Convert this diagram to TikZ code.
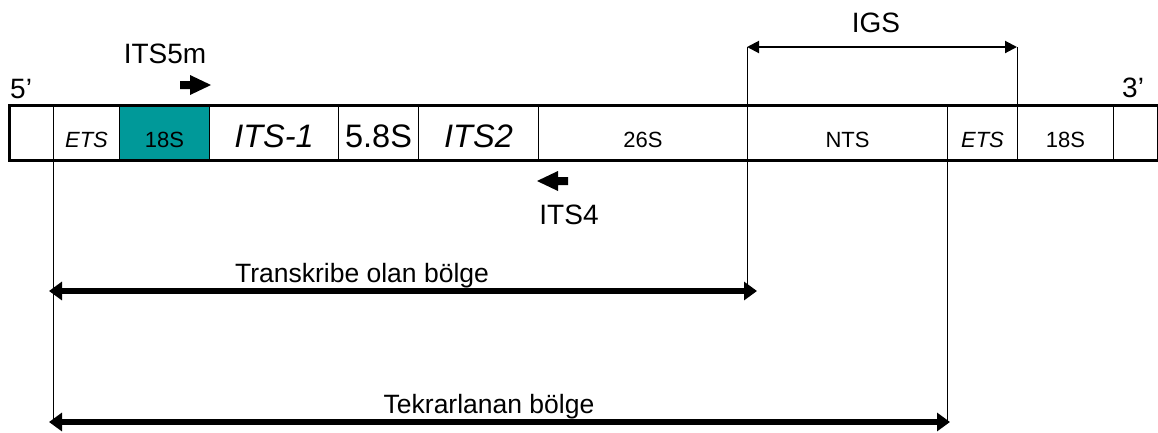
\documentclass[tikz,border=0pt]{standalone}
\usepackage{fontspec}
\setmainfont{Liberation Sans}
\usetikzlibrary{arrows.meta}
\definecolor{tealbox}{RGB}{0,153,153}
\begin{document}
\begin{tikzpicture}[x=1pt,y=-1pt,
  cell/.style={draw, line width=1pt, minimum height=54pt, inner sep=0pt, anchor=west,
    text height=28pt, text depth=0pt, font=\fontsize{22}{24}\selectfont},
  big/.style={font=\fontsize{32.5}{34}\selectfont},
  lbl/.style={anchor=base, inner sep=0pt, font=\fontsize{28}{32}\selectfont},
  rlbl/.style={anchor=base, inner sep=0pt, font=\fontsize{26.5}{30}\selectfont},
  thin/.style={line width=1pt},
  igsarrow/.style={line width=2pt, {Triangle[length=12pt,width=12pt]}-{Triangle[length=12pt,width=12pt]}},
  bigarrow/.style={line width=5.5pt, {Triangle[length=13pt,width=18pt]}-{Triangle[length=13pt,width=18pt]}}]
\useasboundingbox (0,0) rectangle (1158,432);
% cells
\node[cell, minimum width=44pt]  (c0)   at (9,133) {};
\node[cell, minimum width=66pt]  (ets1) at (53,133) {\itshape ETS};
\node[cell, minimum width=90pt, fill=tealbox] (s18a) at (119,133) {18S};
\node[cell, minimum width=129pt, big] (its1) at (209,133) {\itshape ITS-1};
\node[cell, minimum width=80pt, big]  (s58)  at (338,133) {5.8S};
\node[cell, minimum width=120pt, big] (its2) at (418,133) {\itshape ITS2};
\node[cell, minimum width=209pt] (s26)  at (538,133) {26S};
\node[cell, minimum width=200pt] (nts)  at (747,133) {NTS};
\node[cell, minimum width=70pt]  (ets2) at (947,133) {\itshape ETS};
\node[cell, minimum width=96pt]  (s18b) at (1017,133) {18S};
\node[cell, minimum width=44pt]  (c10)  at (1113,133) {};
\draw[line width=3pt] (c0.north west) rectangle (c10.south east);
% end labels
\node[lbl, anchor=base west] (five)  at (10,98) {5’};
\node[lbl, anchor=base west] (three) at (1122,97) {3’};
% primers
\node[lbl] (its5m) at (165,63) {ITS5m};
\coordinate (p5) at (180,85);
\fill (p5) ++(0,-4) -- ++(10,0) -- ++(0,-6) -- ++(21,10) -- ++(-21,10) -- ++(0,-6) -- ++(-10,0) -- cycle;
\node[lbl] (its4) at (569,224) {ITS4};
\coordinate (p4) at (568,181);
\fill (p4) ++(0,-4) -- ++(-10,0) -- ++(0,-6) -- ++(-21,10) -- ++(21,10) -- ++(0,-6) -- ++(10,0) -- cycle;
% IGS
\coordinate (igsL) at (747,47);
\coordinate (igsR) at (1017,47);
\node[lbl] (igs) at (876,32) {IGS};
\draw[igsarrow] (igsL) -- (igsR);
% region arrows
\coordinate (trL) at (49,291);
\coordinate (trR) at (757,291);
\coordinate (tkL) at (49,422);
\coordinate (tkR) at (950,422);
\node[rlbl] (trans) at (362,282) {Transkribe olan bölge};
\node[rlbl] (tekr) at (489,413) {Tekrarlanan bölge};
% vertical lines
\draw[thin] (ets1.south west) -- (ets1.south west |- tkL);
\draw[thin] (igsL) -- (igsL |- trL);
\draw[thin] (ets2.south west) -- (ets2.south west |- tkL);
\draw[thin] (igsR) -- (s18b.north west);
\draw[bigarrow] (trL) -- (trR);
\draw[bigarrow] (tkL) -- (tkR);
\end{tikzpicture}
\end{document}
